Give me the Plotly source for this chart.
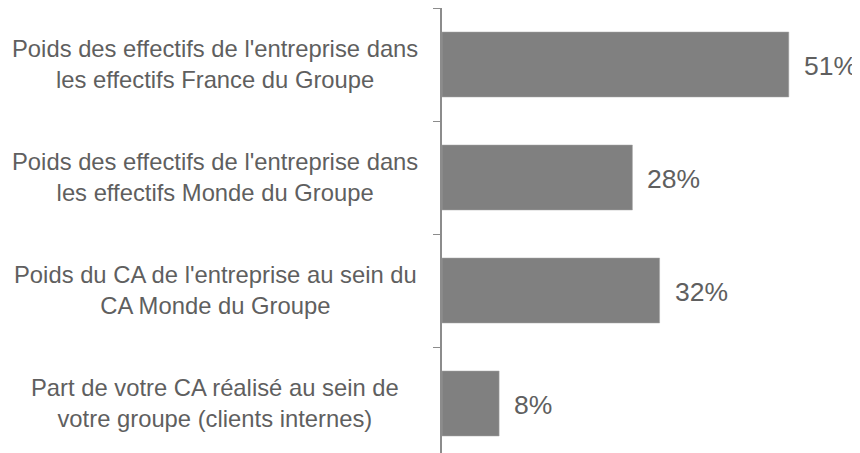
import plotly.graph_objects as go

categories = [
    "Poids des effectifs de l'entreprise dans<br>les effectifs France du Groupe",
    "Poids des effectifs de l'entreprise dans<br>les effectifs Monde du Groupe",
    "Poids du CA de l'entreprise au sein du<br>CA Monde du Groupe",
    "Part de votre CA réalisé au sein de<br>votre groupe (clients internes)",
]
values = [51, 28, 32, 8.4]
labels = ["51%", "28%", "32%", "8%"]

# page body has an 8px default margin
W, H = 852, 445
ml, mr, mt, mb = 434, 0, 0, 0
plot_w = W - ml - mr
plot_h = H - mt - mb
x_max = plot_w / 6.8
band = 113.0
y_bottom = -0.5 + plot_h / band

fig = go.Figure(go.Bar(
    x=values, y=categories, orientation="h",
    marker=dict(color="#808080", line=dict(color="#a6a6a6", width=0.5)),
    width=0.575, hoverinfo="skip",
))

font = "Arial, Liberation Sans, sans-serif"
for c, v, l in zip(categories, values, labels):
    fig.add_annotation(x=v, y=c, xref="x", yref="y", text=l, showarrow=False,
                       xanchor="left", xshift=13, yshift=-1,
                       font=dict(size=26.5, color="#5f5f5f", family=font))
    fig.add_annotation(x=(207 - ml) / plot_w, y=c, xref="paper", yref="y", text=c,
                       showarrow=False, xanchor="center", align="center", yshift=1,
                       font=dict(size=23.8, color="#5f5f5f", family=font))

fig.update_layout(
    width=W, height=H, margin=dict(l=ml, r=mr, t=mt, b=mb),
    plot_bgcolor="white", paper_bgcolor="white", showlegend=False,
    xaxis=dict(range=[0, x_max], visible=False),
    yaxis=dict(type="category", range=[y_bottom, -0.5], showticklabels=False,
               tickson="boundaries", ticks="outside", ticklen=7, tickcolor="#8c8c8c",
               showline=True, linecolor="#8c8c8c", linewidth=1.5, showgrid=False,
               zeroline=False),
)
fig.write_html("out.html")
